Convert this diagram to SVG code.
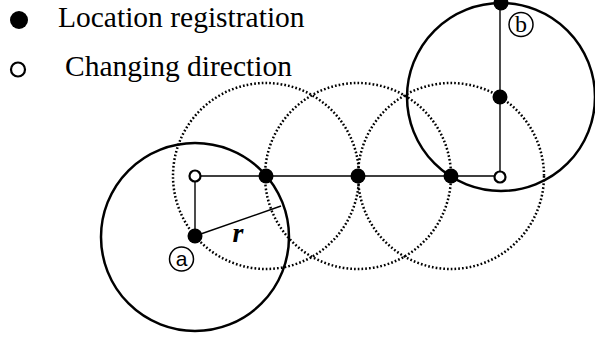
<svg xmlns="http://www.w3.org/2000/svg" width="595" height="337" viewBox="0 0 595 337">
<style>
.big{fill:none;stroke:#000;stroke-width:2.5}
.dot{fill:none;stroke:#000;stroke-width:2.5;stroke-dasharray:1.7 2.1}
.ln{stroke:#000;stroke-width:1.4;fill:none}
.reg{fill:#000}
.chg{fill:#fff;stroke:#000;stroke-width:2.2}
.tag{fill:#fff;stroke:#000;stroke-width:1.5}
text{font-family:'Liberation Serif','Times New Roman',serif;fill:#000}
.txt{font-size:29.5px}
</style>
<rect width="595" height="337" fill="#fff"/>
<g id="legend-registration">
<circle class="reg" cx="19" cy="20" r="9"/>
<text class="txt" x="58" y="27">Location registration</text>
</g>
<g id="legend-changing">
<circle class="chg" cx="18" cy="69.5" r="7"/>
<text class="txt" x="65" y="76">Changing direction</text>
</g>
<g id="range-circles">
<circle class="dot" cx="266" cy="176" r="93"/>
<circle class="dot" cx="358" cy="176" r="93"/>
<circle class="dot" cx="451" cy="176" r="93"/>
<circle class="big" cx="195" cy="237" r="94"/>
<circle class="big" cx="501" cy="97" r="94"/>
</g>
<g id="connectors">
<path class="ln" d="M195,236 V176 H500 V3"/>
<path class="ln" d="M195,236 L281,206"/>
</g>
<g id="point-a">
<circle class="reg" cx="195" cy="236" r="7.5"/>
<circle class="tag" cx="181.5" cy="259" r="12"/>
<text font-size="21" x="181.5" y="266" text-anchor="middle" style="font-family:'Liberation Sans',Arial,sans-serif">a</text>
</g>
<g id="turn-1"><circle class="chg" cx="195" cy="176" r="5.5"/></g>
<g id="reg-1"><circle class="reg" cx="266" cy="176" r="7.5"/></g>
<g id="reg-2"><circle class="reg" cx="358" cy="176" r="7.5"/></g>
<g id="reg-3"><circle class="reg" cx="451" cy="176" r="7.5"/></g>
<g id="turn-2"><circle class="chg" cx="500" cy="177" r="5.5"/></g>
<g id="reg-4"><circle class="reg" cx="500" cy="97" r="7.5"/></g>
<g id="point-b">
<circle class="reg" cx="501" cy="3" r="7.5"/>
<circle class="tag" cx="521" cy="24.5" r="12"/>
<text font-size="24" x="521" y="32" text-anchor="middle">b</text>
</g>
<g id="label-r">
<text font-style="italic" font-weight="bold" font-size="28" x="238" y="242" text-anchor="middle">r</text>
</g>
</svg>
